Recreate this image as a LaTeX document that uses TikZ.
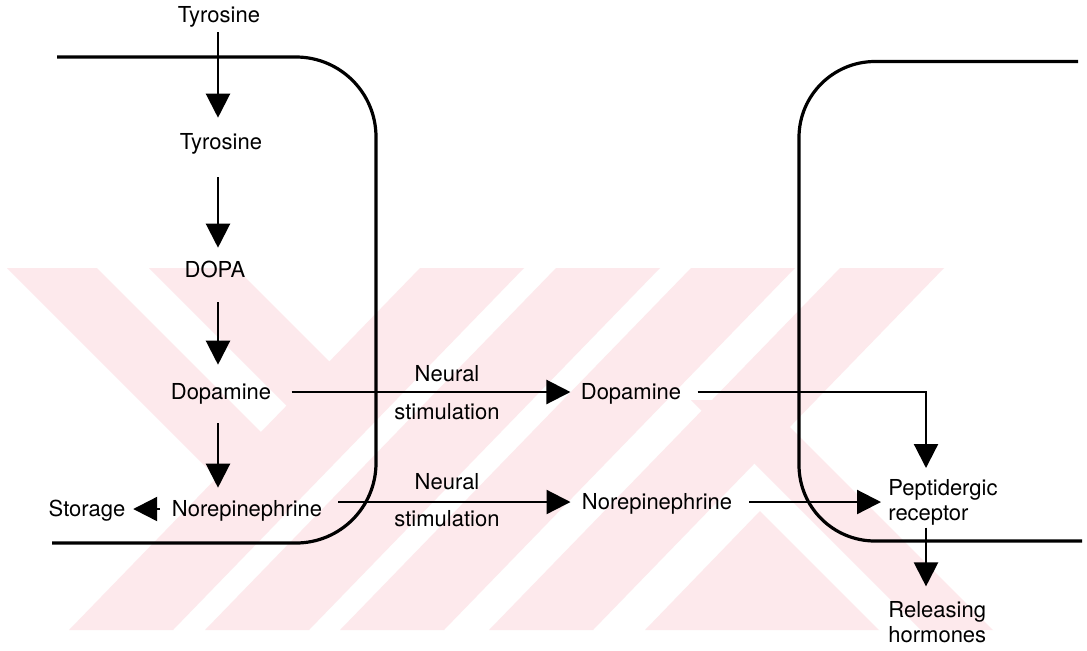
\documentclass[tikz,border=0pt]{standalone}
\usepackage{fontspec}
\setmainfont{TeX Gyre Heros}
\usetikzlibrary{arrows.meta,calc}
\definecolor{wm}{HTML}{FDE9EC}
\begin{document}
\begin{tikzpicture}[x=0.5pt,y=-0.5pt,
  lbl/.style={font=\fontsize{11}{12.5}\selectfont, inner sep=0pt, text height=7.9pt, text depth=0pt},
  lbltwo/.style={font=\fontsize{11}{12.5}\selectfont, inner sep=0pt, align=left, anchor=west},
  arr/.style={line width=1.1pt, -{Triangle[length=12pt,width=12pt]}},
  cell/.style={line width=1.6pt, rounded corners=40pt},
  wmark/.style={fill=wm, draw=none}]
\useasboundingbox (0,0) rectangle (1087,650);
\fill[white] (0,0) rectangle (1087,650);
% watermark
\fill[wmark] (420,268) -- (524,268) -- (173,630) -- (69,630) -- cycle;
\fill[wmark] (556,268) -- (660,268) -- (309,630) -- (205,630) -- cycle;
\fill[wmark] (691,268) -- (795,268) -- (444,630) -- (340,630) -- cycle;
\fill[wmark] (840,268) -- (944,268) -- (593,630) -- (489,630) -- cycle;
\fill[wmark] (7,268) -- (97,268) -- (310,481) -- (220,481) -- cycle;
\fill[wmark] (149,268) -- (236,268) -- (378,410) -- (291,410) -- cycle;
\fill[wmark] (691,400) -- (763,400) -- (993,630) -- (921,630) -- cycle;
\fill[wmark] (760,511) -- (879,630) -- (645,630) -- cycle;
% cells
\draw[cell] (57,57) -- (376,57) -- (376,543) -- (52,543);
\draw[cell, rounded corners=38pt] (1078,61.5) -- (799,61.5) -- (799,541) -- (1082,541);
% nodes
\node[lbl] (tyr0) at (219,15) {Tyrosine};
\node[lbl] (tyr1) at (221,142) {Tyrosine};
\node[lbl] (dopa) at (215,270) {DOPA};
\node[lbl] (dop1) at (221,392) {Dopamine};
\node[lbl] (nor1) at (247,509) {Norepinephrine};
\node[lbl] (stor) at (87,509) {Storage};
\node[lbl] (n1) at (447,374) {Neural};
\node[lbl] (s1) at (447,412) {stimulation};
\node[lbl] (n2) at (447,482) {Neural};
\node[lbl] (s2) at (447,519) {stimulation};
\node[lbl] (dop2) at (631,392) {Dopamine};
\node[lbl] (nor2) at (657,502) {Norepinephrine};
\node[lbltwo] (pep) at (888,502) {Peptidergic\\receptor};
\node[lbltwo] (rel) at (888,622.5) {Releasing\\hormones};
\coordinate (cx) at (218,0);
\coordinate (pk) at (926,468);
% arrows
\draw[arr, shorten <=4.5pt, shorten >=8pt] (tyr0.south -| cx) -- (tyr1.north -| cx);
\draw[arr, shorten <=13.5pt, shorten >=7pt] (tyr1.south -| cx) -- (dopa.north -| cx);
\draw[arr, shorten <=12pt, shorten >=9.5pt] (dopa.south -| cx) -- (dop1.north -| cx);
\draw[arr, shorten <=11.5pt, shorten >=6.5pt] (dop1.south -| cx) -- (nor1.north -| cx);
\draw[arr, shorten <=6pt, shorten >=3.75pt] (nor1.west) -- (stor.east);
\draw[arr, shorten <=10pt, shorten >=5pt] (dop1.east) -- (dop2.west);
\draw[arr, shorten <=8pt] (dop2.east) -| (pk);
\draw[arr, shorten <=8pt, shorten >=5.5pt] (nor1.east |- nor2.west) -- (nor2.west);
\draw[arr, shorten <=8.5pt, shorten >=3.5pt] (nor2.east) -- (nor2.east -| pep.west);
\draw[arr, shorten <=1.2pt, shorten >=7.5pt] (pep.south -| pk) -- (rel.north -| pk);
\end{tikzpicture}
\end{document}
